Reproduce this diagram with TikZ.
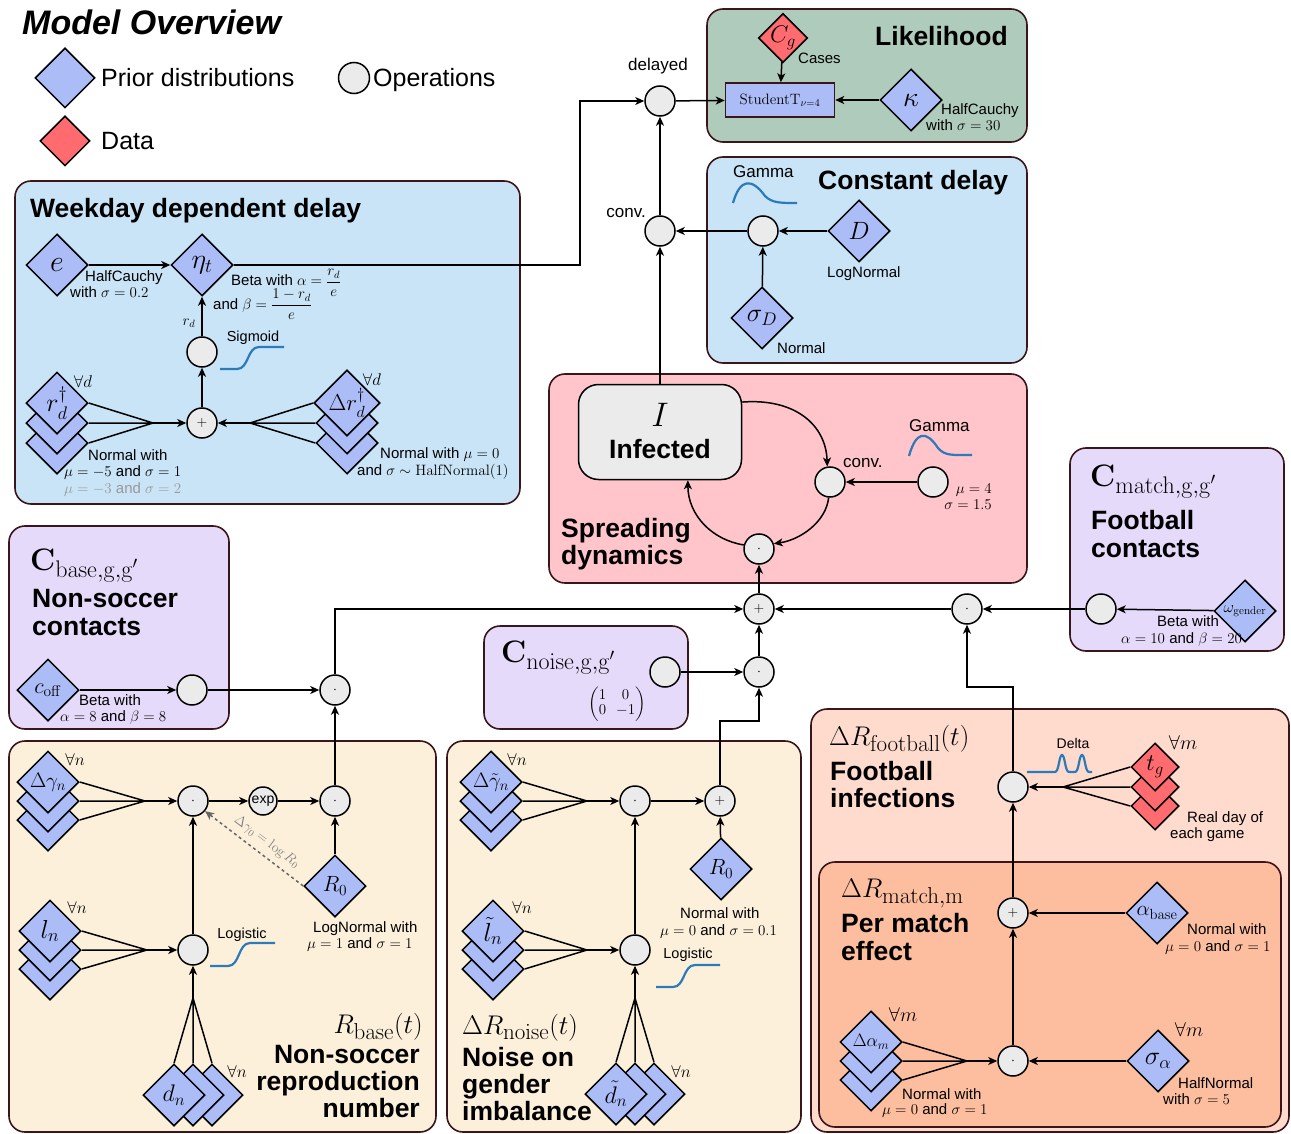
\RequirePackage{fix-cm}
\documentclass[tikz,border=0pt]{standalone}
\usepackage{amsmath}
\usepackage[no-math]{fontspec}
\setmainfont{Liberation Sans}
\usetikzlibrary{shapes.geometric,arrows.meta}
\newcommand{\FS}[1]{\fontsize{#1}{#1}\selectfont}
\newcommand{\SB}[2]{\hbox{\FS{#1}$\mathrm{#2}$}}
\definecolor{priorC}{HTML}{ABBCF7}
\definecolor{dataC}{HTML}{FF6B6F}
\definecolor{opC}{HTML}{EBEBEB}
\definecolor{blueC}{HTML}{C8E4F6}
\definecolor{greenC}{HTML}{AECBBB}
\definecolor{pinkC}{HTML}{FFC5CA}
\definecolor{purpleC}{HTML}{E6DAFB}
\definecolor{creamC}{HTML}{FDF0DB}
\definecolor{footC}{HTML}{FEDBCD}
\definecolor{matchC}{HTML}{FDBE9F}
\definecolor{bordC}{HTML}{3A1519}
\definecolor{curveC}{HTML}{2B7BBA}
\begin{document}
\begin{tikzpicture}[x=1pt,y=-1pt,
  prior/.style={shape=diamond, draw=black, line width=1.5pt, fill=priorC, inner sep=0pt, minimum width=62pt, minimum height=62pt},
  datad/.style={prior, fill=dataC},
  op/.style={circle, draw=black, line width=1.5pt, fill=opC, minimum size=30pt, inner sep=0pt, font=\FS{14}},
  panel/.style={draw=bordC, line width=1.6pt, rounded corners=16pt},
  ln/.style={line width=1.5pt},
  arr/.style={line width=1.5pt, -{Stealth[length=9pt,width=8pt,inset=2.5pt]}},
  lbl/.style={inner sep=0pt, anchor=base west},
  sm/.style={lbl, font=\FS{15}},
  md/.style={inner sep=0pt, font=\FS{17}},
  ttl/.style={lbl, font=\FS{26.5}\bfseries},
  fa/.style={inner sep=0pt, font=\FS{17}},
  curve/.style={draw=curveC, line width=2.2pt}
]
\useasboundingbox (0,0) rectangle (1291,1134);

% ---------------- panels ----------------
\path[panel, fill=blueC] (15,181) rectangle (520,504);
\path[panel, fill=greenC] (707,9) rectangle (1027,142);
\path[panel, fill=blueC] (707,157) rectangle (1027,363);
\path[panel, fill=pinkC] (549,374) rectangle (1027,583);
\path[panel, fill=purpleC] (1070,448) rectangle (1284,651);
\path[panel, fill=purpleC] (9,526) rectangle (229,729);
\path[panel, fill=purpleC] (484,626) rectangle (688,729);
\path[panel, fill=creamC] (9,741) rectangle (436,1132);
\path[panel, fill=creamC] (447,741) rectangle (801,1132);
\path[panel, fill=footC] (811,709) rectangle (1289,1132);
\path[panel, fill=matchC] (819,862) rectangle (1281,1127);

% ---------------- legend ----------------
\node[lbl, font=\FS{34}\bfseries\itshape] (title) at (22,35) {Model Overview};
\node[prior, minimum width=60pt, minimum height=60pt] (legP) at (65,78) {};
\node[lbl, font=\FS{25}] (legPt) at (101,87) {Prior distributions};
\node[op, minimum size=31pt] (legO) at (354,78) {};
\node[lbl, font=\FS{25}] (legOt) at (373,87) {Operations};
\node[datad, minimum width=50pt, minimum height=50pt] (legD) at (65,141) {};
\node[lbl, font=\FS{25}] (legDt) at (101,150) {Data};

% ---------------- weekday dependent delay ----------------
\node[ttl] (wT) at (30,218) {Weekday dependent delay};
\node[prior, font=\FS{30}] (e) at (57,265) {$e$};
\node[prior, font=\FS{28}] (eta) at (202,265) {$\eta_t$};
\draw[arr] (e) -- (eta);
\node[sm] (eL1) at (85,282) {HalfCauchy};
\node[sm] (eL2) at (70,298) {with $\sigma = 0.2$};
\node[sm] (etaL1) at (231,286) {Beta with $\alpha = \dfrac{r_d}{e}$};
\node[sm] (etaL2) at (213,309) {and $\beta = \dfrac{1-r_d}{e}$};
\node[op] (sigW) at (202,352) {};
\node[op] (plusW) at (202,423) {$+$};
\draw[arr] (plusW) -- (sigW);
\draw[arr] (sigW) -- (eta);
\node[inner sep=0pt, font=\FS{15}] (rdL) at (189,323) {$r_d$};
\node[inner sep=0pt, font=\FS{14.5}] (sigL) at (253,338) {Sigmoid};
\draw[curve] (220,369) -- (237,369) .. controls (249,369) and (247,347) .. (259,347) -- (284,347);
% r stack
\node[prior] (r3) at (57,443) {};
\node[prior] (r2) at (57,423) {};
\node[prior, font=\FS{26}] (r1) at (57,403) {$r_d^\dagger$};
\coordinate (cvR) at (153,423);
\draw[ln] (r1.east) -- (cvR) (r2.east) -- (cvR) (r3.east) -- (cvR);
\draw[arr] (cvR) -- (plusW);
% delta r stack
\node[prior] (dr3) at (347,443) {};
\node[prior] (dr2) at (347,423) {};
\node[prior, font=\FS{23}] (dr1) at (347,403) {$\Delta r_d^\dagger$};
\coordinate (cvDR) at (250,423);
\draw[ln] (dr1.west) -- (cvDR) (dr2.west) -- (cvDR) (dr3.west) -- (cvDR);
\draw[arr] (cvDR) -- (plusW);
\node[fa] (faD1) at (83,382) {$\forall d$};
\node[fa] (faD2) at (372,380) {$\forall d$};
\node[sm] (rL1) at (88,460) {Normal with};
\node[sm] (rL2) at (64,476) {$\mu = -5$ and $\sigma = 1$};
\node[sm, text=black!40] (rL3) at (64,493) {$\mu = -3$ and $\sigma = 2$};
\node[sm] (drL1) at (380,458) {Normal with $\mu = 0$};
\node[sm] (drL2) at (357,475) {and $\sigma \sim \mathrm{HalfNormal}(1)$};

% ---------------- likelihood ----------------
\node[ttl] (lT) at (875,46) {Likelihood};
\node[datad, minimum width=48pt, minimum height=48pt, font=\FS{24}] (Cg) at (783,38) {$C_g$};
\node[sm] (CgL) at (798,64) {Cases};
\node[draw=bordC, line width=1.5pt, fill=priorC, minimum width=109pt, minimum height=34pt, inner sep=0pt, font=\FS{15}] (stud) at (780,100) {$\mathrm{StudentT}_{\nu=4}$};
\draw[arr] (Cg) -- (stud);
\node[prior, font=\FS{28}] (kappa) at (911,100) {$\kappa$};
\draw[arr] (kappa) -- (stud);
\node[sm] (kL1) at (941,115) {HalfCauchy};
\node[sm] (kL2) at (926,131) {with $\sigma = 30$};
\node[op] (delayed) at (660,101) {};
\node[md, anchor=base] (delL) at (658,71) {delayed};
\draw[arr] (delayed) -- (stud);
\coordinate (bendE) at (580,265);
\draw[arr] (eta.east) -- (bendE) |- (delayed.west);

% ---------------- constant delay ----------------
\node[ttl] (cT) at (818,190) {Constant delay};
\node[md, anchor=base west] (gL) at (733,178) {Gamma};
\draw[curve] (733,203) .. controls (740,178) and (752,178) .. (765,196) .. controls (772,203) and (780,203) .. (797,203);
\node[op] (opD) at (763,231) {};
\node[op] (convD) at (660,231) {};
\node[prior, font=\FS{25}] (D) at (859,231) {$D$};
\node[prior, font=\FS{26}] (sD) at (762,318) {$\sigma_D$};
\draw[arr] (D) -- (opD);
\draw[arr] (opD) -- (convD);
\draw[arr] (sD) -- (opD);
\node[sm] (DL) at (827,278) {LogNormal};
\node[sm] (sDL) at (777,353) {Normal};
\node[md, anchor=base east] (convDL) at (646,218) {conv.};
\draw[arr] (convD) -- (delayed);

% ---------------- spreading dynamics ----------------
\node[draw=black, line width=1.5pt, fill=opC, rounded corners=20pt, minimum width=163pt, minimum height=95pt] (Inf) at (660,432) {};
\node[inner sep=0pt, font=\FS{34}] (InfI) at (660,415) {$I$};
\node[inner sep=0pt, font=\FS{26.5}\bfseries] (InfT) at (660,449) {Infected};
\draw[arr] (Inf.north) -- (convD);
\node[op] (convS) at (830,482) {};
\node[md, anchor=base west] (convSL) at (843,467) {conv.};
\node[op] (parS) at (933,482) {};
\draw[arr] (parS) -- (convS);
\node[inner sep=0pt, anchor=base east, font=\FS{15}] (muS) at (992,493) {$\mu = 4$};
\node[inner sep=0pt, anchor=base east, font=\FS{15}] (sgS) at (992,509) {$\sigma = 1.5$};
\node[md, anchor=base west] (gSL) at (909,431) {Gamma};
\draw[curve] (909,456) .. controls (916,431) and (926,430) .. (938,448) .. controls (945,456) and (952,455) .. (972,455);
\node[op] (dotS) at (759,549) {$\cdot$};
\draw[arr] (Inf.20) .. controls (795,398) and (826,425) .. (convS.100);
\draw[arr] (convS.-95) .. controls (826,522) and (800,540) .. (dotS.20);
\draw[arr] (dotS.165) .. controls (712,540) and (688,515) .. (Inf.-60);
\node[ttl] (sT1) at (561,537) {Spreading};
\node[ttl] (sT2) at (561,564) {dynamics};

% ---------------- football contacts ----------------
\node[lbl, font=\FS{31}] (CmT) at (1090,486) {$\mathbf{C}_{\SB{24}{match{,}g{,}g'}}$};
\node[ttl] (CmT1) at (1091,529) {Football};
\node[ttl] (CmT2) at (1091,557) {contacts};
\node[prior, font=\FS{16}] (omega) at (1245,611) {$\omega_{\mathrm{gender}}$};
\node[op] (footop) at (1101,609) {};
\draw[arr] (omega) -- (footop);
\node[sm] (omL1) at (1157,626) {Beta with};
\node[sm] (omL2) at (1121,643) {$\alpha = 10$ and $\beta = 20$};
\node[op] (dotM) at (967,609) {$\cdot$};
\draw[arr] (footop) -- (dotM);
\node[op] (sum) at (759,609) {$+$};
\draw[arr] (dotM) -- (sum);
\draw[arr] (sum) -- (dotS);

% ---------------- non-soccer contacts ----------------
\node[lbl, font=\FS{31}] (CbT) at (30,570) {$\mathbf{C}_{\SB{24}{base{,}g{,}g'}}$};
\node[ttl] (CbT1) at (32,607) {Non-soccer};
\node[ttl] (CbT2) at (32,635) {contacts};
\node[prior, font=\FS{22}] (coff) at (48,690) {$c_{\mathrm{off}}$};
\node[op] (coffop) at (192,690) {};
\draw[arr] (coff) -- (coffop);
\node[sm] (coL1) at (79,705) {Beta with};
\node[sm] (coL2) at (60,721) {$\alpha = 8$ and $\beta = 8$};
\node[op] (dotB) at (335,690) {$\cdot$};
\draw[arr] (coffop) -- (dotB);
\draw[arr] (dotB.north) |- (sum.west);

% ---------------- noise contacts ----------------
\node[lbl, font=\FS{31}] (CnT) at (501,662) {$\mathbf{C}_{\SB{24}{noise{,}g{,}g'}}$};
\node[inner sep=0pt, font=\FS{15}] (mat) at (617,704) {$\begin{pmatrix}1 & 0\\ 0 & -1\end{pmatrix}$};
\node[op] (cnop) at (665,672) {};
\node[op] (dotN) at (759,672) {$\cdot$};
\draw[arr] (cnop) -- (dotN);
\draw[arr] (dotN) -- (sum);

% ---------------- R base ----------------
\node[prior] (g3) at (48,820) {};
\node[prior] (g2) at (48,801) {};
\node[prior, font=\FS{21}] (g1) at (48,782) {$\Delta\gamma_n$};
\coordinate (cvG) at (145,801);
\draw[ln] (g1.east) -- (cvG) (g2.east) -- (cvG) (g3.east) -- (cvG);
\node[op] (dotA) at (193,801) {$\cdot$};
\draw[arr] (cvG) -- (dotA);
\node[op, minimum size=28pt] (expA) at (263,801) {exp};
\node[op] (dotR) at (335,801) {$\cdot$};
\draw[arr] (dotA) -- (expA);
\draw[arr] (expA) -- (dotR);
\draw[arr] (dotR) -- (dotB);
\node[prior, font=\FS{22}] (R0a) at (335,886) {$R_0$};
\draw[arr] (R0a) -- (dotR);
\draw[arr, dashed, draw=black!60] (R0a.west) -- (dotA.-40);
\node[inner sep=0pt, rotate=-37, text=black!50, font=\FS{14}] (dgL) at (267,842) {$\Delta\gamma_0 = \log R_0$};
\node[sm] (R0aL1) at (313,932) {LogNormal with};
\node[sm] (R0aL2) at (307,948) {$\mu = 1$ and $\sigma = 1$};
\node[prior] (l3) at (50,969) {};
\node[prior] (l2) at (50,950) {};
\node[prior, font=\FS{26}] (l1) at (50,931) {$l_n$};
\coordinate (cvL) at (147,950);
\draw[ln] (l1.east) -- (cvL) (l2.east) -- (cvL) (l3.east) -- (cvL);
\node[op] (logA) at (193,950) {};
\draw[arr] (cvL) -- (logA);
\draw[arr] (logA) -- (dotA);
\node[inner sep=0pt, font=\FS{14.5}] (logAL) at (242,935) {Logistic};
\draw[curve] (210,966) -- (228,966) .. controls (240,966) and (238,943) .. (250,943) -- (275,943);
\node[prior] (d3) at (212,1095) {};
\node[prior] (d2) at (193,1095) {};
\node[prior, font=\FS{24}] (d1) at (174,1095) {$d_n$};
\coordinate (cvD) at (193,998);
\draw[ln] (d1.north) -- (cvD) (d2.north) -- (cvD) (d3.north) -- (cvD);
\draw[arr] (cvD) -- (logA);
\node[fa] (faN1) at (75,760) {$\forall n$};
\node[fa] (faN2) at (77,908) {$\forall n$};
\node[fa] (faN3) at (237,1072) {$\forall n$};
\node[inner sep=0pt, anchor=base east, font=\FS{27}] (RbT) at (423,1033) {$R_{\SB{23}{base}}(t)$};
\node[inner sep=0pt, anchor=base east, font=\FS{26.5}\bfseries] (RbT1) at (420,1063) {Non-soccer};
\node[inner sep=0pt, anchor=base east, font=\FS{26.5}\bfseries] (RbT2) at (420,1090) {reproduction};
\node[inner sep=0pt, anchor=base east, font=\FS{26.5}\bfseries] (RbT3) at (420,1117) {number};

% ---------------- R noise ----------------
\node[prior] (n3) at (491,820) {};
\node[prior] (n2) at (491,801) {};
\node[prior, font=\FS{21}] (n1) at (491,782) {$\Delta\tilde\gamma_n$};
\coordinate (cvNG) at (587,801);
\draw[ln] (n1.east) -- (cvNG) (n2.east) -- (cvNG) (n3.east) -- (cvNG);
\node[op] (dotN2) at (635,801) {$\cdot$};
\draw[arr] (cvNG) -- (dotN2);
\node[op] (plusN) at (720,801) {$+$};
\draw[arr] (dotN2) -- (plusN);
\node[prior, font=\FS{22}] (R0b) at (721,869) {$R_0$};
\draw[arr] (R0b) -- (plusN);
\coordinate (bendN) at (720,721);
\draw[arr] (plusN.north) -- (bendN) -| (dotN.south);
\node[sm] (R0bL1) at (680,918) {Normal with};
\node[sm] (R0bL2) at (660,935) {$\mu = 0$ and $\sigma = 0.1$};
\node[prior] (m3) at (493,969) {};
\node[prior] (m2) at (493,950) {};
\node[prior, font=\FS{26}] (m1) at (493,931) {$\tilde l_n$};
\coordinate (cvNL) at (587,950);
\draw[ln] (m1.east) -- (cvNL) (m2.east) -- (cvNL) (m3.east) -- (cvNL);
\node[op] (logN) at (635,950) {};
\draw[arr] (cvNL) -- (logN);
\draw[arr] (logN) -- (dotN2);
\node[inner sep=0pt, font=\FS{14.5}] (logNL) at (688,955) {Logistic};
\draw[curve] (656,987) -- (673,987) .. controls (685,987) and (683,965) .. (695,965) -- (720,965);
\node[prior] (k3) at (654,1094) {};
\node[prior] (k2) at (635,1094) {};
\node[prior, font=\FS{24}] (k1) at (616,1094) {$\tilde d_n$};
\coordinate (cvND) at (635,998);
\draw[ln] (k1.north) -- (cvND) (k2.north) -- (cvND) (k3.north) -- (cvND);
\draw[arr] (cvND) -- (logN);
\node[fa] (faN4) at (517,760) {$\forall n$};
\node[fa] (faN5) at (522,908) {$\forall n$};
\node[fa] (faN6) at (681,1072) {$\forall n$};
\node[lbl, font=\FS{27}] (RnT) at (462,1034) {$\Delta R_{\SB{23}{noise}}(t)$};
\node[ttl] (RnT1) at (462,1066) {Noise on};
\node[ttl] (RnT2) at (462,1093) {gender};
\node[ttl] (RnT3) at (462,1120) {imbalance};

% ---------------- football infections ----------------
\node[lbl, font=\FS{27}] (fT) at (829,745) {$\Delta R_{\SB{23}{football}}(t)$};
\node[ttl] (fT1) at (830,780) {Football};
\node[ttl] (fT2) at (830,807) {infections};
\node[op] (deltaop) at (1013,787) {};
\node[inner sep=0pt, font=\FS{14}] (deltaL) at (1073,743) {Delta};
\draw[curve] (1027,772) -- (1055,772) .. controls (1059,772) and (1059,755) .. (1062,755) .. controls (1065,755) and (1065,772) .. (1069,772) -- (1075,772) .. controls (1079,772) and (1079,755) .. (1082,755) .. controls (1085,755) and (1085,772) .. (1089,772) -- (1092,772);
\node[datad, minimum width=48pt, minimum height=48pt] (t3) at (1155,806) {};
\node[datad, minimum width=48pt, minimum height=48pt] (t2) at (1155,787) {};
\node[datad, minimum width=48pt, minimum height=48pt, font=\FS{24}] (t1) at (1155,767) {$t_g$};
\coordinate (cvT) at (1063,787);
\draw[ln] (t1.west) -- (cvT) (t2.west) -- (cvT) (t3.west) -- (cvT);
\draw[arr] (cvT) -- (deltaop);
\node[fa, font=\FS{20}] (faM1) at (1183,743) {$\forall m$};
\node[sm] (tL1) at (1187,822) {Real day of};
\node[sm] (tL2) at (1170,838) {each game};
\coordinate (bendF) at (1013,687);
\draw[arr] (deltaop.north) -- (bendF) -| (dotM.south);
\node[op] (plusM) at (1013,913) {$+$};
\draw[arr] (plusM) -- (deltaop);
\node[prior, font=\FS{21}] (ab) at (1157,913) {$\alpha_{\mathrm{base}}$};
\draw[arr] (ab) -- (plusM);
\node[sm] (abL1) at (1187,934) {Normal with};
\node[sm] (abL2) at (1165,951) {$\mu = 0$ and $\sigma = 1$};
\node[lbl, font=\FS{27}] (mT) at (841,897) {$\Delta R_{\SB{23}{match{,}m}}$};
\node[ttl] (mT1) at (841,932) {Per match};
\node[ttl] (mT2) at (841,960) {effect};
\node[op] (dotMM) at (1013,1061) {$\cdot$};
\draw[arr] (dotMM) -- (plusM);
\node[prior] (a3) at (871,1080) {};
\node[prior] (a2) at (871,1061) {};
\node[prior, font=\FS{18}] (a1) at (871,1042) {$\Delta\alpha_m$};
\coordinate (cvAM) at (967,1061);
\draw[ln] (a1.east) -- (cvAM) (a2.east) -- (cvAM) (a3.east) -- (cvAM);
\draw[arr] (cvAM) -- (dotMM);
\node[prior, font=\FS{26}] (sa) at (1158,1061) {$\sigma_\alpha$};
\draw[arr] (sa) -- (dotMM);
\node[fa, font=\FS{20}] (faM2) at (903,1015) {$\forall m$};
\node[fa, font=\FS{20}] (faM3) at (1189,1030) {$\forall m$};
\node[sm] (aL1) at (902,1099) {Normal with};
\node[sm] (aL2) at (882,1114) {$\mu = 0$ and $\sigma = 1$};
\node[sm] (saL1) at (1178,1088) {HalfNormal};
\node[sm] (saL2) at (1163,1104) {with $\sigma = 5$};
\end{tikzpicture}
\end{document}
